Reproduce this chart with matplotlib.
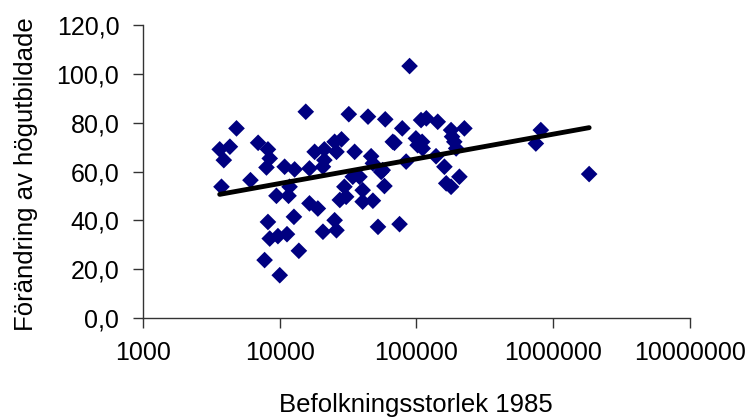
import numpy as np
import matplotlib
matplotlib.use('Agg')
import matplotlib.pyplot as plt
from matplotlib.ticker import FixedLocator, FuncFormatter, NullLocator

plt.rcParams['font.family'] = ['Liberation Sans', 'DejaVu Sans']

# population 1985 and change in share of highly educated, one entry per municipality
befolkning = [
    3640, 4320, 3900, 3750, 4830, 6110, 6950, 8200, 8450, 8000,
    9460, 10860, 12850, 11800, 11600, 8200, 12700, 8450, 9700, 11300,
    7750, 13800, 10000, 15500, 18000, 21200, 25200, 28300, 26000, 21200,
    20700, 16500, 35300, 46600, 48000, 55200, 16500, 19000, 25200, 26000,
    20700, 52300, 75200, 58300, 48000, 40400, 40400, 29700, 27500, 30600,
    34200, 38300, 67100, 32000, 44200, 59100, 78700, 89000, 69000, 108000,
    118000, 143000, 179000, 224000, 99000, 102000, 111000, 139000, 189000, 195000,
    84000, 56600, 160000, 206000, 165000, 179000, 746000, 811000, 1830000,
    110000, 182000,
]
forandring = [
    69.1, 70.2, 64.7, 53.8, 77.7, 56.5, 71.8, 69.1, 65.4, 61.7,
    50.1, 62.0, 60.9, 53.8, 50.1, 39.4, 41.5, 32.6, 33.6, 34.4,
    23.8, 27.6, 17.6, 84.5, 68.1, 69.1, 72.2, 73.2, 68.1, 64.7,
    62.0, 61.3, 68.1, 66.3, 63.4, 59.9, 47.0, 44.9, 40.1, 36.0,
    35.4, 37.4, 38.5, 54.1, 48.1, 47.7, 52.4, 53.8, 48.4, 49.7,
    57.9, 57.9, 72.2, 83.5, 82.5, 81.4, 77.7, 103.2, 71.8, 81.1,
    81.8, 80.4, 77.0, 77.7, 73.6, 70.8, 69.5, 66.3, 72.2, 69.5,
    64.1, 60.6, 62.0, 57.9, 55.2, 53.8, 71.5, 77.0, 59.0,
    72.2, 74.3,
]

x = np.array(befolkning, dtype=float)
y = np.array(forandring, dtype=float)

# logarithmic trend line y = a*log10(x) + b
a, b = np.polyfit(np.log10(x), y, 1)
xt = np.logspace(np.log10(x.min()), np.log10(x.max()), 200)
yt = a * np.log10(xt) + b

fig = plt.figure(figsize=(7.47, 4.19), dpi=100)
ax = fig.add_axes([0.1914, 0.2405, 0.7323, 0.6998])

ax.scatter(x, y, marker='D', s=72, color='#000080', edgecolors='none', zorder=2)
ax.plot(xt, yt, color='black', lw=3.5, solid_capstyle='round', zorder=3)

ax.set_xscale('log')
ax.set_xlim(1000, 1e7)
ax.set_ylim(0, 120)

ax.xaxis.set_major_locator(FixedLocator([1e3, 1e4, 1e5, 1e6, 1e7]))
ax.xaxis.set_minor_locator(NullLocator())
ax.xaxis.set_major_formatter(FuncFormatter(lambda v, p: f'{int(round(v))}'))
ax.set_yticks(np.arange(0, 121, 20))
ax.yaxis.set_major_formatter(FuncFormatter(lambda v, p: f'{v:.1f}'.replace('.', ',')))

for side in ('top', 'right'):
    ax.spines[side].set_visible(False)
for side in ('left', 'bottom'):
    ax.spines[side].set_color('#333333')
    ax.spines[side].set_linewidth(1.0)

ax.tick_params(axis='both', direction='out', length=7, width=1.0, color='#333333',
               labelsize=18, labelcolor='black')
ax.tick_params(axis='x', pad=9.5)
ax.tick_params(axis='y', pad=10)

fig.text(0.5562, 0.0344, 'Befolkningsstorlek 1985', fontsize=18.5, ha='center', va='center')
fig.text(0.0348, 0.5847, 'Förändring av högutbildade', fontsize=18.5, rotation=90,
         ha='center', va='center')

fig.savefig('out.png', dpi=100)
